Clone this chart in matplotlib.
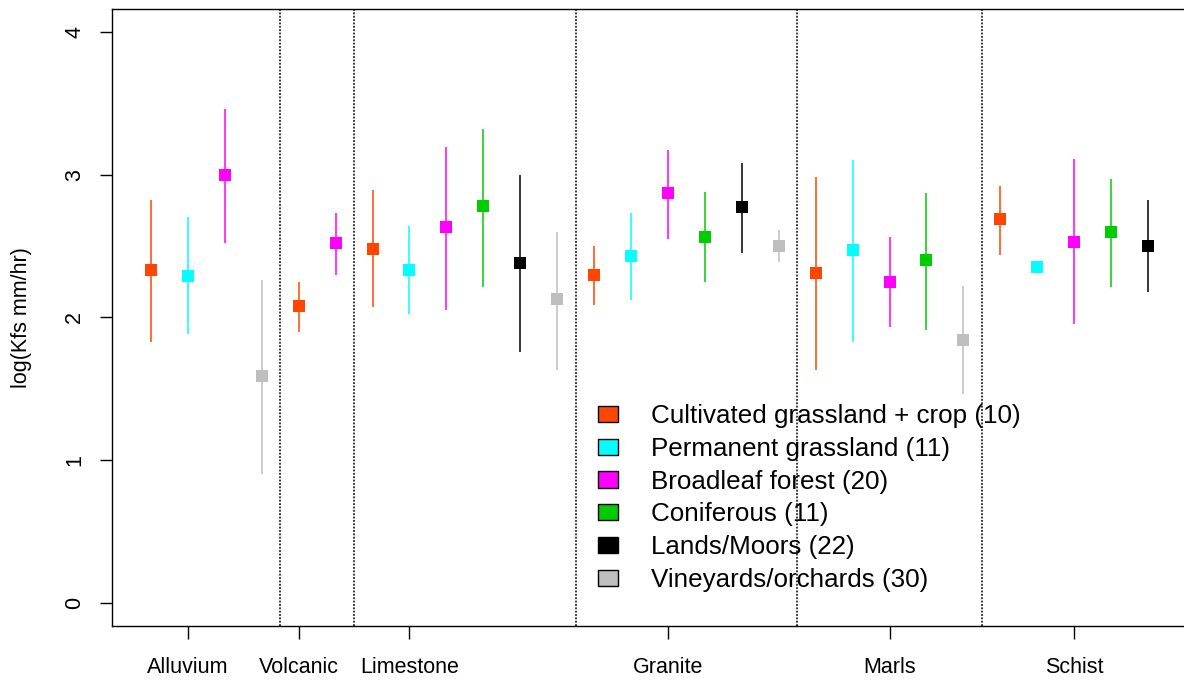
import matplotlib
matplotlib.use("Agg")
import matplotlib.pyplot as plt
from matplotlib.patches import Patch

plt.rcParams["font.family"] = ["Liberation Sans", "DejaVu Sans"]

# rock types along the x axis
rocks = ["Alluvium", "Volcanic", "Limestone", "Granite", "Marls", "Schist"]

landuse = [
    "Cultivated grassland + crop (10)",
    "Permanent grassland (11)",
    "Broadleaf forest (20)",
    "Coniferous (11)",
    "Lands/Moors (22)",
    "Vineyards/orchards (30)",
]
colors = ["#FF4500", "#00FFFF", "#FF00FF", "#00CD00", "#000000", "#BEBEBE"]

# mean and interval of log(Kfs) per land use, one value per rock (None = absent)
cult_mean = [2.33, 2.08, 2.48, 2.30, 2.31, 2.69]
cult_lo = [1.83, 1.90, 2.07, 2.09, 1.63, 2.44]
cult_hi = [2.82, 2.25, 2.89, 2.50, 2.98, 2.92]

perm_mean = [2.29, None, 2.33, 2.43, 2.47, 2.35]
perm_lo = [1.88, None, 2.02, 2.12, 1.83, 2.35]
perm_hi = [2.70, None, 2.64, 2.73, 3.10, 2.35]

broad_mean = [3.00, 2.52, 2.63, 2.87, 2.25, 2.53]
broad_lo = [2.52, 2.30, 2.05, 2.55, 1.93, 1.95]
broad_hi = [3.46, 2.73, 3.19, 3.17, 2.56, 3.11]

conif_mean = [None, None, 2.78, 2.56, 2.40, 2.60]
conif_lo = [None, None, 2.21, 2.25, 1.91, 2.21]
conif_hi = [None, None, 3.32, 2.88, 2.87, 2.97]

moor_mean = [None, None, 2.38, 2.77, None, 2.50]
moor_lo = [None, None, 1.76, 2.45, None, 2.18]
moor_hi = [None, None, 3.00, 3.08, None, 2.82]

vine_mean = [1.59, None, 2.13, 2.50, 1.84, None]
vine_lo = [0.90, None, 1.63, 2.39, 1.46, None]
vine_hi = [2.26, None, 2.60, 2.61, 2.22, None]

means = [cult_mean, perm_mean, broad_mean, conif_mean, moor_mean, vine_mean]
lows = [cult_lo, perm_lo, broad_lo, conif_lo, moor_lo, vine_lo]
highs = [cult_hi, perm_hi, broad_hi, conif_hi, moor_hi, vine_hi]

# which point of each group carries the rock label
tick_slot = [1, 0, 1, 2, 2, 2]

W, H = 1184, 684
fig = plt.figure(figsize=(W / 100, H / 100), dpi=100)
ax = fig.add_axes([111.7 / W, 1 - 625.7 / H, (1192 - 111.7) / W, (625.7 - 9) / H])

pos = 0
tick_pos = []
dividers = []
for r in range(len(rocks)):
    group = []
    for k in range(len(landuse)):
        m = means[k][r]
        if m is None:
            continue
        pos += 1
        group.append(pos)
        ax.vlines(pos, lows[k][r], highs[k][r], color=colors[k], lw=1.1, zorder=2)
        ax.plot(pos, m, marker="s", ms=9, mew=0, color=colors[k], zorder=3)
    tick_pos.append(group[tick_slot[r]])
    if r < len(rocks) - 1:
        dividers.append(pos + 0.5)

for d in dividers:
    ax.axvline(d, color="black", lw=1.1, ls=(0, (1.2, 1.0)), zorder=1)

ax.set_xlim(-0.064, 29.19)
ax.set_ylim(-0.16, 4.16)
ax.set_xticks(tick_pos)
ax.set_xticklabels(rocks)
ax.set_yticks([0, 1, 2, 3, 4])
ax.tick_params(axis="both", labelsize=15.5, length=9, width=1, color="black")
ax.tick_params(axis="x", pad=13.5)
ax.tick_params(axis="y", pad=10)
plt.setp(ax.get_yticklabels(), rotation=90, va="center")
for s in ax.spines.values():
    s.set_linewidth(1.0)

fig.text(22 / W, 1 - 317.5 / H, "log(Kfs mm/hr)", rotation=90,
         ha="center", va="center", fontsize=15.5)

handles = [Patch(facecolor=c, edgecolor="black", lw=1) for c in colors]
ax.legend(handles, landuse, loc="upper left", bbox_to_anchor=(598 / W, 1 - 404 / H),
          bbox_transform=fig.transFigure, frameon=False, fontsize=18.7,
          handlelength=0.77, handleheight=0.58, handletextpad=1.27,
          labelspacing=0.34, borderpad=0, borderaxespad=0)

fig.savefig("out.png", dpi=100)
